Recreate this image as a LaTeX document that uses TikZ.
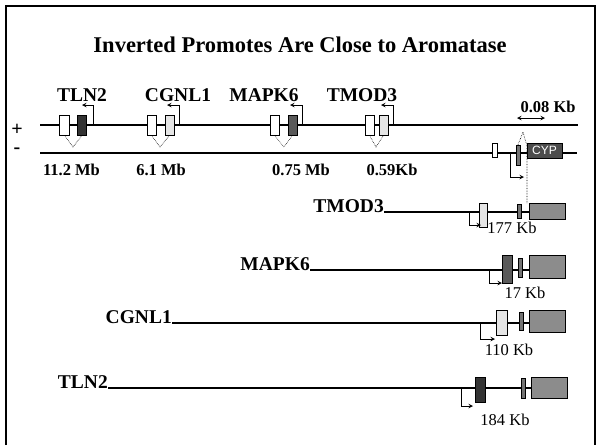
\documentclass[tikz,border=0pt]{standalone}
\usepackage{fontspec}
\setmainfont{Liberation Serif}
\newfontfamily\cypFont{Liberation Sans}

\begin{document}
\begin{tikzpicture}[x=1pt,y=-1pt,
    titleText/.style={font=\fontsize{22.5}{28}\selectfont\bfseries,inner sep=0pt},
    geneLabel/.style={font=\fontsize{19.5}{21}\selectfont\bfseries,inner sep=0pt},
    distLabel/.style={font=\fontsize{16.5}{18}\selectfont\bfseries,inner sep=0pt},
    kbLabel/.style={font=\fontsize{16.5}{18}\selectfont,inner sep=0pt},
    signLabel/.style={font=\fontsize{20}{22}\selectfont\bfseries,inner sep=0pt},
    exonBox/.style={rectangle,draw=black,fill=white,line width=0.7pt,inner sep=0pt,minimum width=9pt,minimum height=20pt},
    thinBox/.style={exonBox,fill=black!55,minimum width=4pt},
    bigBox/.style={exonBox,fill=black!45,minimum width=36pt},
    cypBox/.style={exonBox,fill=black!70,minimum width=35pt,minimum height=15pt,text=white,font=\cypFont\fontsize{12}{13}\selectfont},
    strandLine/.style={line width=1.5pt},
    trackLine/.style={line width=1.1pt},
    promArrow/.style={->,>=stealth,line width=1pt},
    spliceLine/.style={densely dotted,line width=0.6pt},
]
\useasboundingbox (0,0) rectangle (602,445);
\draw[line width=1.3pt] (6,445) -- (6,6) -- (595,6) -- (595,445);
\node[titleText] (title) at (300,45) {Inverted Promotes Are Close to Aromatase};

% genomic strands
\coordinate (plusL) at (40,125); \coordinate (plusR) at (578,125);
\coordinate (minusL) at (40,153); \coordinate (minusR) at (577,153);
\draw[strandLine] (plusL) -- (plusR);
\draw[strandLine] (minusL) -- (minusR);
\node[signLabel] (plus) at (17,130) {+};
\node[signLabel] (minus) at (17,151) {-};

% TLN2
\node[geneLabel,anchor=base] (tlnLab) at (82,101) {TLN2};
\node[exonBox,minimum width=10pt] (tlnW) at (64.5,125) {};
\node[exonBox,fill=black!80] (tlnD) at (82,125) {};
\coordinate (tlnP) at (93,125);
\draw[promArrow] (tlnP) |- ++(-11,-20);
\draw[spliceLine] (tlnW.south) -- (73,147) -- (tlnD.south);
\node[distLabel] (tlnDist) at (71.5,170) {11.2 Mb};

% CGNL1
\node[geneLabel,anchor=base] (cgnLab) at (178,101) {CGNL1};
\node[exonBox] (cgnW) at (151.5,125) {};
\node[exonBox,fill=black!10] (cgnL) at (169.5,125) {};
\coordinate (cgnP) at (179,125);
\draw[promArrow] (cgnP) |- ++(-12,-20);
\draw[spliceLine] (cgnW.south) -- (160,147) -- (cgnL.south);
\node[distLabel] (cgnDist) at (161,170) {6.1 Mb};

% MAPK6
\node[geneLabel,anchor=base] (mapLab) at (264,101) {MAPK6};
\node[exonBox] (mapW) at (274.5,125) {};
\node[exonBox,fill=black!65] (mapD) at (292.5,125) {};
\coordinate (mapP) at (302,125);
\draw[promArrow] (mapP) |- ++(-12,-20);
\draw[spliceLine] (mapW.south) -- (284,147) -- (mapD.south);
\node[distLabel] (mapDist) at (301,170) {0.75 Mb};

% TMOD3
\node[geneLabel,anchor=base] (tmodLab) at (362,101) {TMOD3};
\node[exonBox] (tmodW) at (369.5,125) {};
\node[exonBox,fill=black!10] (tmodL) at (383.5,125) {};
\coordinate (tmodP) at (393,125);
\draw[promArrow] (tmodP) |- ++(-12,-20);
\draw[spliceLine] (tmodW.south) -- (376,147) -- (tmodL.south);
\node[distLabel] (tmodDist) at (392,170) {0.59Kb};

% aromatase
\node[distLabel] (kbLab) at (548,107) {0.08 Kb};
\coordinate (kbL) at (517,118); \coordinate (kbR) at (545,118);
\draw[<->,>=stealth,line width=1pt] (kbL) -- (kbR);
\node[exonBox,minimum width=5pt,minimum height=14pt] (aroW) at (495,150) {};
\node[thinBox] (aroT) at (518,155) {};
\node[cypBox] (cyp) at (544.5,150.5) {CYP};
\coordinate (apex) at (523,132);
\coordinate (dropEnd) at (527,203);
\draw[spliceLine] (aroT.north) -- (apex) -- (527,146) -- (dropEnd);
\coordinate (aroP) at (510,153);
\draw[promArrow] (aroP) |- ++(14,24);

% TMOD3 transcript
\node[geneLabel,anchor=base east] (tmodRow) at (384,212) {TMOD3};
\coordinate (tmodEnd) at (529,212);
\draw[trackLine] (tmodRow.base east) -- (tmodEnd);
\node[exonBox,fill=black!10,minimum width=8pt,minimum height=24pt] (tmodE) at (483,215) {};
\node[thinBox,minimum height=14pt] (tmodT) at (519.5,211) {};
\node[bigBox,minimum height=16pt] (tmodB) at (547,211) {};
\coordinate (tmodRP) at (469,212);
\draw[promArrow] (tmodRP) |- ++(12,13);
\node[kbLabel] (tmodKb) at (512,228) {177 Kb};

% MAPK6 transcript
\node[geneLabel,anchor=base east] (mapRow) at (310,270) {MAPK6};
\coordinate (mapEnd) at (529,270);
\draw[trackLine] (mapRow.base east) -- (mapEnd);
\node[exonBox,fill=black!65,minimum width=10pt,minimum height=28pt] (mapE) at (507,269) {};
\node[thinBox,minimum height=19pt] (mapT) at (520.5,267.5) {};
\node[bigBox,minimum height=23pt] (mapB) at (547,266.5) {};
\coordinate (mapRP) at (489,270);
\draw[promArrow] (mapRP) |- ++(13,13);
\node[kbLabel] (mapKb) at (525,293) {17 Kb};

% CGNL1 transcript
\node[geneLabel,anchor=base east] (cgnRow) at (172,323) {CGNL1};
\coordinate (cgnEnd) at (529,323);
\draw[trackLine] (cgnRow.base east) -- (cgnEnd);
\node[exonBox,fill=black!10,minimum width=11pt,minimum height=25pt] (cgnE) at (501.5,322.5) {};
\node[thinBox,minimum height=18pt] (cgnT) at (521,321) {};
\node[bigBox,minimum height=22pt] (cgnB) at (547,321) {};
\coordinate (cgnRP) at (480,323);
\draw[promArrow] (cgnRP) |- ++(15,16);
\node[kbLabel] (cgnKb) at (509,350) {110 Kb};

% TLN2 transcript
\node[geneLabel,anchor=base east] (tlnRow) at (108,388) {TLN2};
\coordinate (tlnEnd) at (531,388);
\draw[trackLine] (tlnRow.base east) -- (tlnEnd);
\node[exonBox,fill=black!80,minimum width=10pt,minimum height=25pt] (tlnE) at (480,389.5) {};
\node[thinBox,minimum height=20pt] (tlnT) at (523,388) {};
\node[bigBox,minimum height=21pt] (tlnB) at (549,387.5) {};
\coordinate (tlnRP) at (461,388);
\draw[promArrow] (tlnRP) |- ++(12,18);
\node[kbLabel] (tlnKb) at (505,420) {184 Kb};
\end{tikzpicture}
\end{document}
